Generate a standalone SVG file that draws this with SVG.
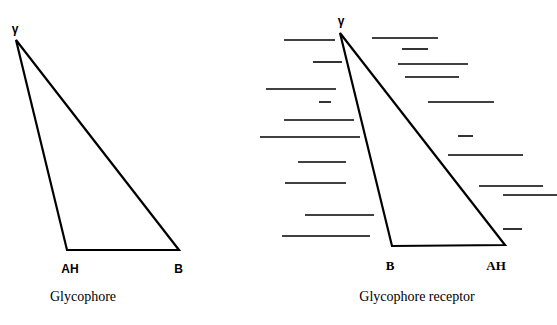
<svg xmlns="http://www.w3.org/2000/svg" width="557" height="325" viewBox="0 0 557 325">
<style>
.tri{fill:none;stroke:#000;stroke-width:2.2;stroke-linejoin:miter}
.h{stroke:#000;stroke-width:1.6;fill:none}
.lab{font-family:"Liberation Sans",Arial,sans-serif;font-weight:bold;font-size:12px;fill:#000}
.labs{font-family:"Liberation Serif","Times New Roman",serif;font-weight:bold;font-size:13px;fill:#000}
.cap{font-family:"Liberation Serif","Times New Roman",serif;font-size:14px;fill:#000}
</style>
<rect width="557" height="325" fill="#fff"/>
<g id="glycophore">
<polygon class="tri" points="16,40 67,250 179,250"/>
<text class="lab" x="15" y="33" text-anchor="middle">γ</text>
<text class="lab" x="70" y="273" text-anchor="middle">AH</text>
<text class="lab" x="178.5" y="273" text-anchor="middle">B</text>
<text class="cap" x="83" y="301" text-anchor="middle">Glycophore</text>
</g>
<g id="receptor">
<g id="membrane">
<line class="h" x1="284" y1="40" x2="335" y2="40"/>
<line class="h" x1="372" y1="38" x2="438" y2="38"/>
<line class="h" x1="402" y1="49" x2="428" y2="49"/>
<line class="h" x1="313" y1="62" x2="342" y2="62"/>
<line class="h" x1="398" y1="64" x2="468" y2="64"/>
<line class="h" x1="405" y1="77" x2="459" y2="77"/>
<line class="h" x1="266" y1="89" x2="336" y2="89"/>
<line class="h" x1="319" y1="102" x2="331" y2="102"/>
<line class="h" x1="428" y1="102" x2="494" y2="102"/>
<line class="h" x1="284" y1="120" x2="354" y2="120"/>
<line class="h" x1="260" y1="137" x2="360" y2="137"/>
<line class="h" x1="458" y1="136" x2="473" y2="136"/>
<line class="h" x1="448" y1="155" x2="523" y2="155"/>
<line class="h" x1="298" y1="162" x2="346" y2="162"/>
<line class="h" x1="285" y1="183" x2="346" y2="183"/>
<line class="h" x1="479" y1="186" x2="543" y2="186"/>
<line class="h" x1="503" y1="195" x2="557" y2="195"/>
<line class="h" x1="305" y1="215" x2="374" y2="215"/>
<line class="h" x1="503" y1="229" x2="522" y2="229"/>
<line class="h" x1="282" y1="236" x2="370" y2="236"/>
</g>
<polygon class="tri" points="340,33 392,246 505,245"/>
<text class="lab" x="341" y="25" text-anchor="middle">γ</text>
<text class="labs" x="390" y="270" text-anchor="middle">B</text>
<text class="labs" x="496" y="270" text-anchor="middle">AH</text>
<text class="cap" x="417" y="301" text-anchor="middle">Glycophore receptor</text>
</g>
</svg>
